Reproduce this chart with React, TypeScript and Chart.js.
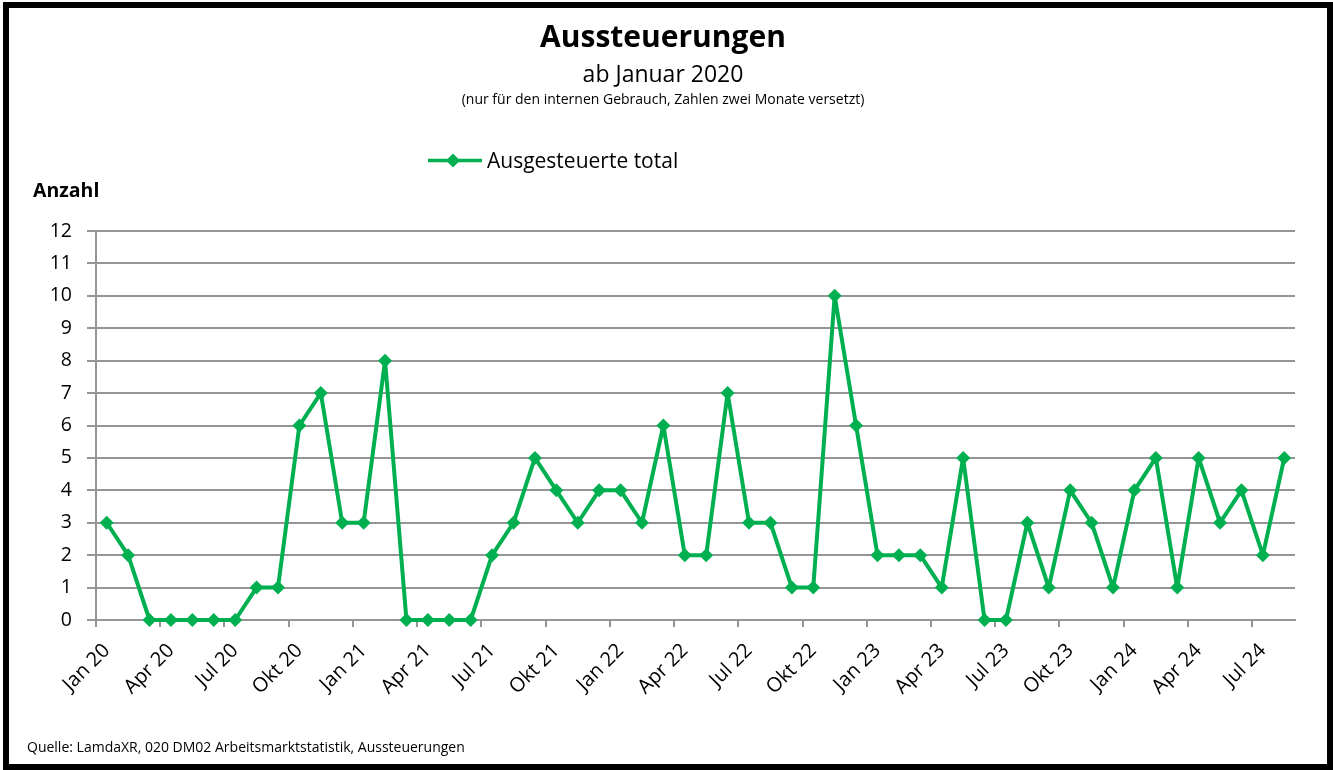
import React, { useEffect, useRef } from "react";
import { Chart, registerables } from "chart.js";

Chart.register(...registerables);

const TITLE = "Aussteuerungen";
const SUBTITLE = "ab Januar 2020";
const NOTE = "(nur für den internen Gebrauch, Zahlen zwei Monate versetzt)";
const Y_TITLE = "Anzahl";
const SOURCE = "Quelle: LamdaXR, 020 DM02 Arbeitsmarktstatistik, Aussteuerungen";
const SERIES_LABEL = "Ausgesteuerte total";

const categories = [
  "Jan 20", "Feb 20", "Mär 20", "Apr 20", "Mai 20", "Jun 20", "Jul 20", "Aug 20", "Sep 20", "Okt 20", "Nov 20", "Dez 20",
  "Jan 21", "Feb 21", "Mär 21", "Apr 21", "Mai 21", "Jun 21", "Jul 21", "Aug 21", "Sep 21", "Okt 21", "Nov 21", "Dez 21",
  "Jan 22", "Feb 22", "Mär 22", "Apr 22", "Mai 22", "Jun 22", "Jul 22", "Aug 22", "Sep 22", "Okt 22", "Nov 22", "Dez 22",
  "Jan 23", "Feb 23", "Mär 23", "Apr 23", "Mai 23", "Jun 23", "Jul 23", "Aug 23", "Sep 23", "Okt 23", "Nov 23", "Dez 23",
  "Jan 24", "Feb 24", "Mär 24", "Apr 24", "Mai 24", "Jun 24", "Jul 24", "Aug 24",
];

const values = [
  3, 2, 0, 0, 0, 0, 0, 1, 1, 6, 7, 3,
  3, 8, 0, 0, 0, 0, 2, 3, 5, 4, 3, 4,
  4, 3, 6, 2, 2, 7, 3, 3, 1, 1, 10, 6,
  2, 2, 2, 1, 5, 0, 0, 3, 1, 4, 3, 1,
  4, 5, 1, 5, 3, 4, 2, 5,
];

const yTicks = [0, 1, 2, 3, 4, 5, 6, 7, 8, 9, 10, 11, 12];
const LABEL_EVERY = 3;

const GREEN = "#00B050";
const GRID = "#959595";
const FONT = "'Open Sans', 'DejaVu Sans', sans-serif";

const decorPlugin = {
  id: "decor",
  beforeDraw(chart: any) {
    const ctx = chart.ctx;
    ctx.save();
    ctx.fillStyle = "#ffffff";
    ctx.fillRect(0, 0, chart.width, chart.height);
    ctx.restore();
  },
  afterDraw(chart: any) {
    const ctx = chart.ctx;
    ctx.save();
    ctx.fillStyle = "#000000";
    ctx.textBaseline = "alphabetic";
    ctx.textAlign = "center";
    ctx.font = `bold 30px ${FONT}`;
    ctx.fillText(TITLE, 663, 47);
    ctx.font = `23px ${FONT}`;
    ctx.fillText(SUBTITLE, 663, 82);
    ctx.font = `14px ${FONT}`;
    ctx.fillText(NOTE, 663, 104);

    // legend
    const ds = chart.data.datasets[0];
    ctx.strokeStyle = ds.borderColor;
    ctx.lineWidth = 3.5;
    ctx.beginPath();
    ctx.moveTo(428, 160.5);
    ctx.lineTo(482, 160.5);
    ctx.stroke();
    ctx.fillStyle = ds.borderColor;
    ctx.beginPath();
    ctx.moveTo(453 - 7, 160.5);
    ctx.lineTo(453, 153.5);
    ctx.lineTo(453 + 7, 160.5);
    ctx.lineTo(453, 167.5);
    ctx.closePath();
    ctx.fill();
    ctx.fillStyle = "#000000";
    ctx.textAlign = "left";
    ctx.font = `21px ${FONT}`;
    ctx.fillText(ds.label, 487, 168);

    // axis title
    ctx.font = `bold 19.5px ${FONT}`;
    ctx.fillText(Y_TITLE, 33, 197);

    // source
    ctx.font = `14px ${FONT}`;
    ctx.fillText(SOURCE, 27, 752);

    // frame
    ctx.strokeStyle = "#000000";
    ctx.lineWidth = 6;
    ctx.strokeRect(6, 5, 1324, 762);
    ctx.restore();
  },
};

export default function App() {
  const canvasRef = useRef<HTMLCanvasElement | null>(null);

  useEffect(() => {
    if (!canvasRef.current) return;
    const chart = new Chart(canvasRef.current, {
      type: "line",
      data: {
        labels: categories,
        datasets: [
          {
            label: SERIES_LABEL,
            data: values,
            borderColor: GREEN,
            backgroundColor: GREEN,
            borderWidth: 4,
            borderJoinStyle: "round",
            borderCapStyle: "round",
            tension: 0,
            pointStyle: "rectRot",
            pointRadius: 7,
            pointHoverRadius: 7,
            pointBorderWidth: 0,
            pointBackgroundColor: GREEN,
            clip: false as any,
          },
        ],
      },
      options: {
        responsive: false,
        animation: false,
        devicePixelRatio: 1,
        layout: { padding: { left: 20, top: 231, right: 38, bottom: 50 } },
        plugins: {
          legend: { display: false },
          title: { display: false },
          tooltip: { enabled: false },
        },
        scales: {
          x: {
            type: "category",
            offset: true,
            afterFit: (s: any) => {
              s.height = 100;
            },
            grid: {
              display: true,
              offset: true,
              drawOnChartArea: false,
              drawTicks: true,
              tickLength: 7,
              lineWidth: 2,
              color: GRID,
              tickColor: (c: any) => (c.index % LABEL_EVERY === 0 ? GRID : "rgba(0,0,0,0)"),
            },
            border: { display: true, color: GRID, width: 2 },
            ticks: {
              autoSkip: false,
              maxRotation: 45,
              minRotation: 45,
              padding: 12,
              color: "#000000",
              font: { family: FONT, size: 20 },
              callback: (_v: any, i: number) => (i % LABEL_EVERY === 0 ? categories[i] : ""),
            },
          },
          y: {
            min: yTicks[0],
            max: yTicks[yTicks.length - 1],
            afterFit: (s: any) => {
              s.width = 76;
            },
            afterBuildTicks: (s: any) => {
              s.ticks = yTicks.map((v) => ({ value: v }));
            },
            grid: {
              color: GRID,
              lineWidth: 2,
              drawTicks: true,
              tickLength: 9,
            },
            border: { display: true, color: GRID, width: 2 },
            ticks: {
              padding: 15,
              color: "#000000",
              font: { family: FONT, size: 19.5 },
            },
          },
        },
      },
      plugins: [decorPlugin],
    });
    return () => chart.destroy();
  }, []);

  return (
    <div style={{ position: "fixed", left: 0, top: 0, width: 1333, height: 770, background: "#fff" }}>
      <canvas ref={canvasRef} width={1333} height={770} style={{ display: "block" }} />
    </div>
  );
}
